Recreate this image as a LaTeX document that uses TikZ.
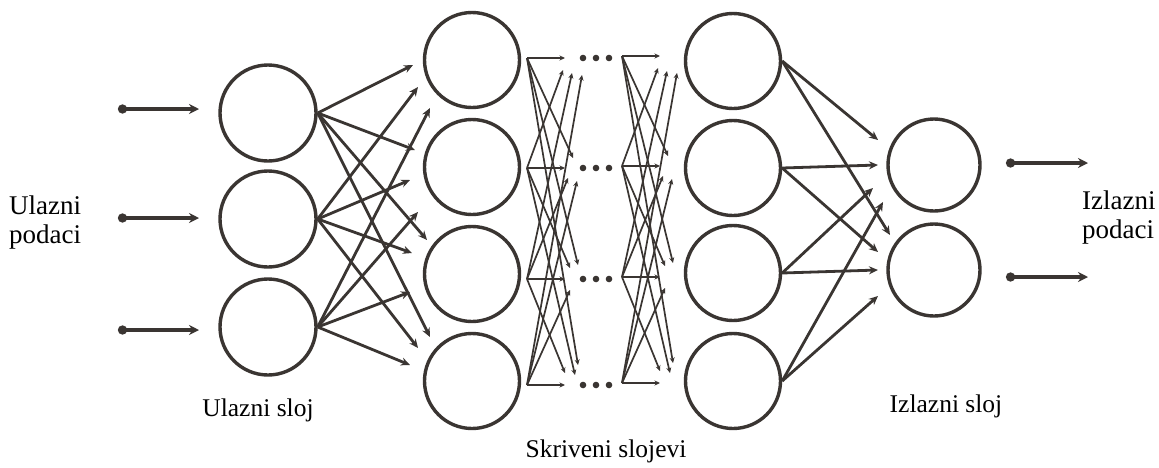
\documentclass[tikz,border=0pt]{standalone}
\usepackage{fontspec}
\setmainfont{Liberation Serif}
\usetikzlibrary{arrows.meta}
\definecolor{ink}{RGB}{58,53,50}
\begin{document}
\begin{tikzpicture}[x=1pt,y=-1pt,
  neuron/.style={circle,draw=ink,line width=3.4pt,inner sep=0pt,minimum size=#1},
  conn/.style={draw=ink,line width=2.8pt,-{Stealth[length=9pt,width=8pt]}},
  mini/.style={draw=ink,line width=1.7pt,-{Stealth[length=5.5pt,width=5pt]}},
  io/.style={draw=ink,line width=4.2pt,{Circle[length=9pt]}-{Stealth[length=10pt,width=10pt]}},
  lbl/.style={font=\fontsize{25.5}{29}\selectfont,text=black,inner sep=0pt},
  biglbl/.style={font=\fontsize{27}{29}\selectfont,text=black,inner sep=0pt},
  dot/.style={fill=ink}]
\useasboundingbox[fill=white] (0,0) rectangle (1159,467);

% input layer
\node[neuron=96pt] (i1) at (268,113) {};
\node[neuron=96pt] (i2) at (268,219) {};
\node[neuron=96pt] (i3) at (268,327) {};
% hidden layer 1
\node[neuron=95pt] (h1) at (472,60) {};
\node[neuron=95pt] (h2) at (472,167) {};
\node[neuron=95pt] (h3) at (472,274) {};
\node[neuron=95pt] (h4) at (472,381) {};
% hidden layer 2
\node[neuron=95pt] (k1) at (733,61) {};
\node[neuron=95pt] (k2) at (733,168) {};
\node[neuron=95pt] (k3) at (733,273) {};
\node[neuron=95pt] (k4) at (733,381) {};
% output layer
\node[neuron=92pt] (o1) at (934,165) {};
\node[neuron=92pt] (o2) at (934,270) {};

% input arrows
\foreach \n/\y in {1/109,2/218,3/330}{
  \coordinate (ins\n) at (118,\y);
  \coordinate (ine\n) at (199,\y);
  \draw[io] (ins\n) -- (ine\n);
}
% output arrows
\foreach \n/\y in {1/163,2/277}{
  \coordinate (outs\n) at (1006,\y);
  \coordinate (oute\n) at (1088,\y);
  \draw[io] (outs\n) -- (oute\n);
}

% input -> hidden 1
\foreach \i/\j/\x/\y in {1/1/413/65,1/2/415/150,1/3/427/240,1/4/430/337,
                         2/1/418/87,2/2/410/180,2/3/412/253,2/4/418/348,
                         3/1/430/108,3/2/418/212,3/3/410/292,3/4/410/365}{
  \coordinate (ti\i\j) at (\x,\y);
  \draw[conn] (i\i.east) -- (ti\i\j);
}

% hidden mini connections (two groups)
\foreach \i/\y in {1/58,2/168,3/279,4/385}{
  \coordinate (a\i) at (527,\y);
  \coordinate (b\i) at (622,\y-2);
  \fill[dot] (583,\y) circle (3.3pt) (596,\y) circle (3.3pt) (609,\y) circle (3.3pt);
}
\foreach \i/\j/\x/\y in {1/1/565/58,2/1/563/70,3/1/572/73,4/1/582/75,
                         1/2/573/158,2/2/565/168,3/2/568/178,4/2/577/181,
                         1/3/578/265,2/3/570/268,3/3/565/279,4/3/570/290,
                         1/4/578/365,2/4/575/375,3/4/565/373,4/4/565/385}{
  \coordinate (ga\i\j) at (\x,\y);
  \coordinate (gb\i\j) at (\x+95,\y-2);
  \draw[mini] (a\i) -- (ga\i\j);
  \draw[mini] (b\i) -- (gb\i\j);
}

% hidden 2 -> output
\foreach \i/\j/\x/\y in {1/1/878/140,1/2/890/235,
                         2/1/878/165,2/2/878/252,
                         3/1/873/188,3/2/878/270,
                         4/1/883/202,4/2/878/296}{
  \coordinate (to\i\j) at (\x,\y);
  \draw[conn] (k\i.east) -- (to\i\j);
}

% labels
\node[biglbl,anchor=west,align=left] (inlbl) at (9,222) {Ulazni\\podaci};
\node[biglbl,anchor=west,align=left] (outlbl) at (1082,217) {Izlazni\\podaci};
\node[lbl] (inlayer) at (258,410) {Ulazni sloj};
\node[lbl] (hidlayer) at (606,451) {Skriveni slojevi};
\node[lbl] (outlayer) at (946,406) {Izlazni sloj};
\end{tikzpicture}
\end{document}
